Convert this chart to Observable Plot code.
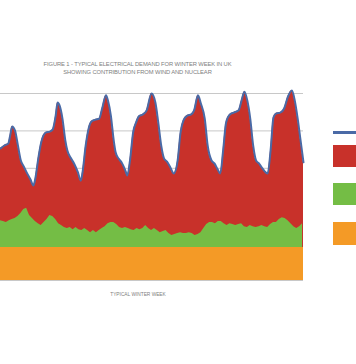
<!DOCTYPE html>
<html><head><meta charset="utf-8">
<script src="https://cdn.jsdelivr.net/npm/d3@7"></script>
<script src="https://cdn.jsdelivr.net/npm/@observablehq/plot@0.6"></script>
<style>
html,body{margin:0;padding:0;background:#fff;overflow:hidden}
#wrap{position:relative;width:356px;height:364px;font-family:"Liberation Sans",Arial,sans-serif}
#wrap svg{position:absolute;left:0;top:0}
.title{position:absolute;left:0;width:275px;text-align:center;color:#808080;font-size:5.8px;line-height:8px;top:60px;letter-spacing:-0.1px}
.cap{position:absolute;left:0;width:276px;text-align:center;color:#808080;font-size:4.8px;top:292px}
.sw{position:absolute;left:333px;width:30px}
</style></head>
<body><div id="wrap"></div>
<script>
// Half-hour settlement periods and demand (GW)
const demandPeriods = [0,4,8,10,12,15,18,21,24,27,31,34,36,39,42,47,51,54,57,59,61,64,67,69,73,76,80,83,85,88,91,94,98,102,105,109,111,114,117,119,122,125,129,131,134,137,140,143,147,151,156,160,163,166,169,172,175,179,183,186,189,193,197,200,204,207,211,214,218,221,224,227,230,233,237,241,246,249,252,255,258,261,264,267,270,276,279,282,285,289,293,297,301,304,307,310,313];
const demand = [35.3,36.1,36.6,38.8,41.2,40.1,36.1,32.1,30.5,28.9,27.0,25.4,27.3,32.6,36.9,39.6,39.8,40.4,44.1,47.6,46.8,43.3,37.4,34.8,32.6,31.3,28.9,26.7,29.4,36.1,40.6,42.5,43.0,43.3,46.0,49.5,48.1,44.1,37.4,34.2,32.6,31.6,29.4,28.1,32.6,39.6,42.2,43.9,44.4,45.5,50.0,47.6,42.2,36.1,32.6,31.8,30.5,28.6,32.1,39.6,42.8,44.1,44.4,45.5,49.5,47.3,43.3,36.1,32.1,31.3,29.9,28.6,34.8,42.2,44.4,44.9,45.5,48.1,50.5,48.1,43.3,36.1,32.1,31.3,30.2,28.6,34.8,43.6,44.7,44.9,46.0,49.2,50.8,48.1,43.3,37.4,31.6];
// Wind (GW), every 3 periods from 0 to 312
const windPeriods = d3.range(0, 313, 3);
const wind = [7.2,7.0,6.7,7.2,7.5,7.8,8.3,9.1,10.2,10.5,
 8.6,7.8,7.0,6.4,5.9,6.7,7.5,8.6,8.3,7.5,
 6.4,5.9,5.4,5.1,5.4,4.8,5.4,4.8,4.6,5.1,
 4.6,4.0,4.6,4.0,4.6,5.1,5.6,6.4,6.7,6.7,
 6.2,5.4,5.1,5.4,5.1,4.8,4.6,5.1,4.8,5.1,
 5.9,5.1,4.6,5.1,4.6,4.0,4.3,4.6,3.8,3.2,
 3.5,3.8,4.0,3.8,3.8,4.0,3.8,3.2,3.5,4.0,
 5.1,6.2,6.7,6.7,6.4,7.0,7.0,6.4,5.9,6.4,
 6.2,5.9,6.2,6.4,5.6,5.4,5.9,5.6,5.4,5.6,
 5.9,5.6,5.4,6.2,6.7,6.7,7.5,8.0,7.8,7.2,
 6.4,5.6,5.1,5.6,6.4];
const nuclear = 8.8; // GW, flat
const gridValues = [0,10,20,30,40,50];
const colors = {demand:"#4a6aa6", gas:"#c8312a", wind:"#74bd45", nuclear:"#f49a26"};

const demandData = demandPeriods.map((p,i)=>({p, v: demand[i]}));
const windData = windPeriods.map((p,i)=>({p, v: nuclear + wind[i]}));
const nucData = [{p:0,v:nuclear},{p:313,v:nuclear}];

const chart = Plot.plot({
  width: 356, height: 364,
  marginLeft: 0, marginRight: 53, marginTop: 93, marginBottom: 84,
  x: {domain:[0,313], axis:null},
  y: {domain:[0,50], axis:null},
  marks: [
    Plot.ruleY(gridValues, {stroke:"#c8c8c8", strokeWidth:1}),
    Plot.areaY(demandData, {x:"p", y:"v", fill:colors.gas, curve:"monotone-x"}),
    Plot.areaY(windData, {x:"p", y:"v", fill:colors.wind, curve:"linear"}),
    Plot.areaY(nucData, {x:"p", y:"v", fill:colors.nuclear}),
    Plot.lineY(demandData, {x:"p", y:"v", stroke:colors.demand, strokeWidth:2, curve:"monotone-x"})
  ]
});
const wrap = document.getElementById("wrap");
wrap.appendChild(chart);

const t = document.createElement("div");
t.className="title";
t.innerHTML="FIGURE 1 - TYPICAL ELECTRICAL DEMAND FOR WINTER WEEK IN UK<br>SHOWING CONTRIBUTION FROM WIND AND NUCLEAR";
wrap.appendChild(t);
const c = document.createElement("div");
c.className="cap"; c.textContent="TYPICAL WINTER WEEK";
wrap.appendChild(c);
// legend swatches (labels fall outside the frame)
[[131,3,colors.demand],[145,22,colors.gas],[183,22,colors.wind],[222,23,colors.nuclear]].forEach(([top,h,col])=>{
  const d=document.createElement("div"); d.className="sw";
  d.style.top=top+"px"; d.style.height=h+"px"; d.style.background=col;
  wrap.appendChild(d);
});
</script></body></html>
